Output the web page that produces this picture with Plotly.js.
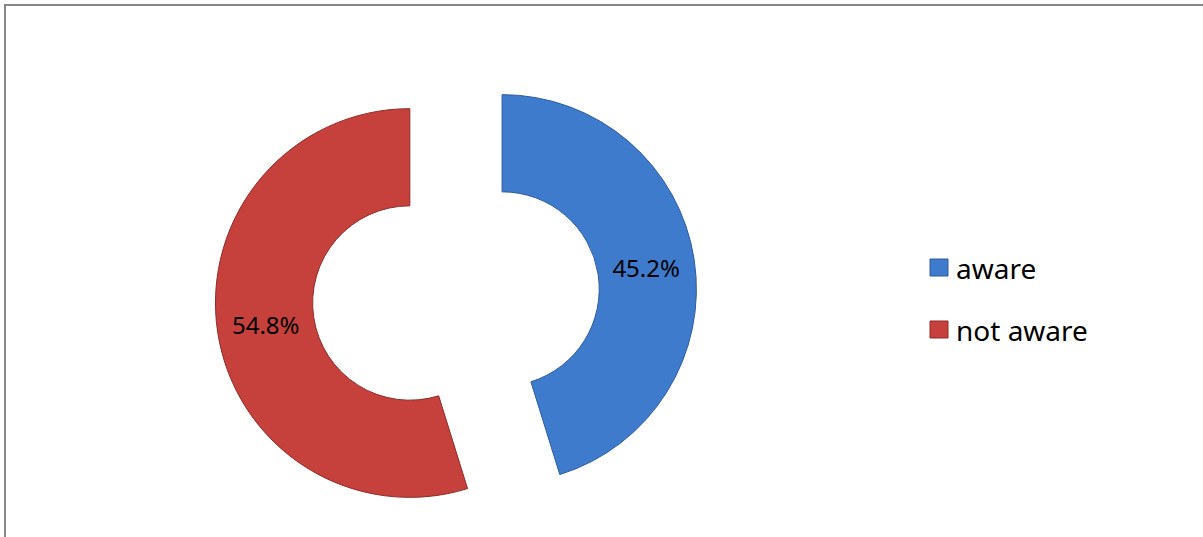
<!DOCTYPE html>
<html>
<head>
<meta charset="utf-8">
<script src="https://cdn.plot.ly/plotly-3.0.1.min.js"></script>
<style>
  html, body { margin: 0; padding: 0; background: #ffffff; }
  #chart { width: 1203px; height: 537px; }
</style>
</head>
<body>
<div id="chart"></div>
<script>
// ---- data ----
const categories = ["aware", "not aware"];
const values = [45.2, 54.8];
const sliceColors = ["#3f7bcc", "#c6403c"];
const edgeColors = ["#2e5d9c", "#8e2c29"];

// ---- layout constants ----
const W = 1203, H = 537;
const marginTop = 55;
const plotH = H - marginTop;
function py(p) { return (H - p) / plotH; } // pixel y -> paper y (b = 0)
function px(p) { return p / W; }

const trace = {
  type: "pie",
  labels: categories,
  values: values,
  sort: false,
  direction: "clockwise",
  rotation: 0,
  hole: 0.5,
  pull: 0.24,
  marker: { colors: sliceColors, line: { color: edgeColors, width: 1 } },
  textinfo: "percent",
  texttemplate: "%{percent:.1%}",
  textposition: "inside",
  insidetextorientation: "horizontal",
  textfont: { family: "Noto Sans, sans-serif", size: 24, color: "#000000" },
  domain: { x: [0.17, 0.588], y: [0, 1] },
  showlegend: false,
  hoverinfo: "label+percent"
};

// legend built from categories / colours
const shapes = [
  { type: "rect", xref: "paper", yref: "paper",
    x0: px(5), x1: px(1260), y0: py(600), y1: py(5),
    line: { color: "#878787", width: 2 }, fillcolor: "rgba(0,0,0,0)" }
];
const annotations = [];
const legendTop = 268, legendStep = 62;
categories.forEach(function (c, i) {
  const cy = legendTop + i * legendStep;
  shapes.push({ type: "rect", xref: "paper", yref: "paper",
    x0: px(930), x1: px(948), y0: py(cy + 8), y1: py(cy - 9),
    fillcolor: sliceColors[i], line: { color: edgeColors[i], width: 1 } });
  annotations.push({ xref: "paper", yref: "paper", x: px(954), y: py(cy),
    xanchor: "left", yanchor: "middle", showarrow: false, text: c,
    font: { family: "Noto Sans, sans-serif", size: 28, color: "#000000" } });
});

const layout = {
  width: W, height: H,
  margin: { l: 0, r: 0, t: marginTop, b: 0, pad: 0 },
  paper_bgcolor: "#ffffff",
  plot_bgcolor: "#ffffff",
  showlegend: false,
  shapes: shapes,
  annotations: annotations
};

Plotly.newPlot("chart", [trace], layout, { displayModeBar: false, staticPlot: true });
</script>
</body>
</html>
